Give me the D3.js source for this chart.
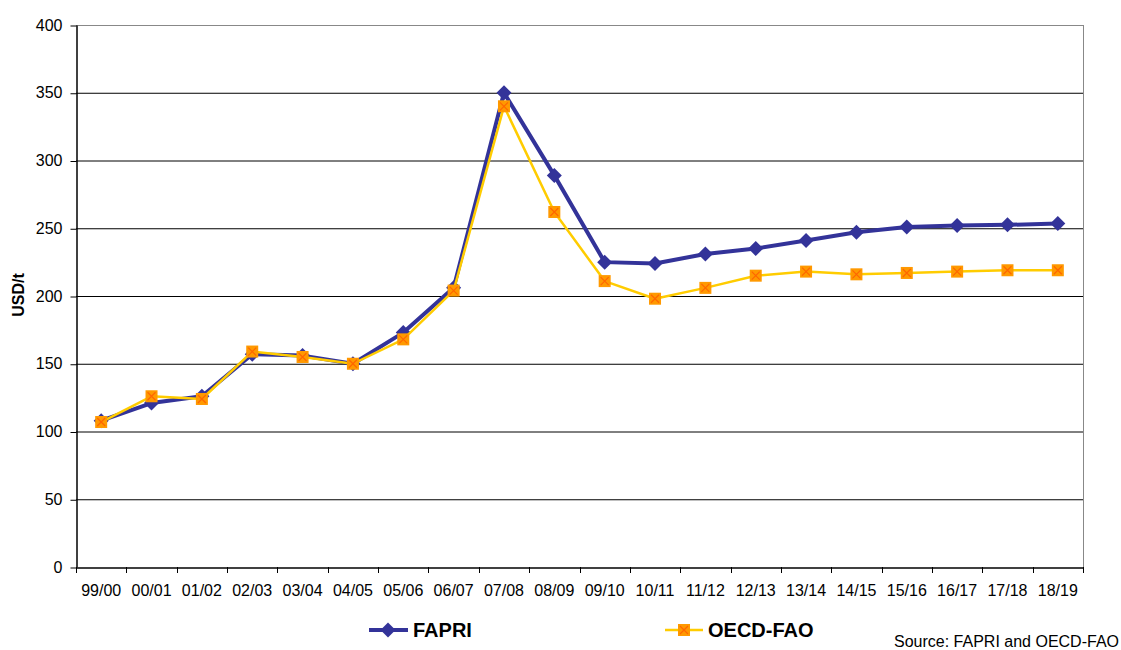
<!DOCTYPE html>
<html><head><meta charset="utf-8">
<script src="https://cdn.jsdelivr.net/npm/d3@7"></script>
<style>body{margin:0;background:#fff;}svg{display:block;font-family:"Liberation Sans",Arial,sans-serif;}</style>
</head><body>
<svg id="c" width="1121" height="650"></svg>
<script>
const categories = ["99/00","00/01","01/02","02/03","03/04","04/05","05/06","06/07","07/08","08/09","09/10","10/11","11/12","12/13","13/14","14/15","15/16","16/17","17/18","18/19"];
const fapri = [108,121,126,157,156,150,173,206,350,289,225,224,231,235,241,247,251,252,252.5,253.5];
const oecd  = [107,126,124,159,155,150,168,204,340,262,211,198,206,215,218,216,217,218,219,219];
const yTicks = [0,50,100,150,200,250,300,350,400];
const seriesNames = ["FAPRI","OECD-FAO"];

const svg = d3.select("#c");
const L=76, R=1083, T=25, B=567;
const x = d3.scaleBand().domain(categories).range([L,R]);
const y = d3.scaleLinear().domain([0,400]).range([B,T]);

// gridlines
svg.append("g").selectAll("line").data(yTicks.filter(d=>d>0&&d<400)).join("line")
  .attr("x1",L).attr("x2",R).attr("y1",d=>y(d)+0.5).attr("y2",d=>y(d)+0.5)
  .attr("stroke","#000").attr("stroke-width",1);
// top & right border gray
svg.append("line").attr("x1",L).attr("x2",R).attr("y1",y(400)+0.5).attr("y2",y(400)+0.5).attr("stroke","#888");
svg.append("line").attr("x1",R+0.5).attr("x2",R+0.5).attr("y1",T).attr("y2",B).attr("stroke","#888");

// y axis
const ya = svg.append("g").attr("transform",`translate(${L+0.5},0)`)
  .call(d3.axisLeft(y).tickValues(yTicks).tickSize(6).tickPadding(8).tickSizeOuter(0));
ya.select(".domain").attr("stroke","#000").attr("stroke-width",1.5);
ya.selectAll(".tick line").attr("stroke","#000").attr("transform","translate(0,0.5)");
ya.selectAll("text").attr("font-size",16).attr("fill","#000").attr("font-family","Liberation Sans, Arial, sans-serif");

// x axis
const xa = svg.append("g").attr("transform",`translate(0,${B+0.5})`)
  .call(d3.axisBottom(x).tickSize(0).tickPadding(17).tickSizeOuter(0));
xa.select(".domain").attr("stroke","#000").attr("stroke-width",1.5);
xa.selectAll("text").attr("font-size",16).attr("fill","#000").attr("font-family","Liberation Sans, Arial, sans-serif");
// boundary tick marks
svg.append("g").selectAll("line").data(d3.range(categories.length+1)).join("line")
  .attr("x1",i=>Math.round(L+i*x.bandwidth())+0.5).attr("x2",i=>Math.round(L+i*x.bandwidth())+0.5)
  .attr("y1",B).attr("y2",B+6).attr("stroke","#000");

// y label
svg.append("text").attr("transform","translate(24,295) rotate(-90)").attr("text-anchor","middle")
  .attr("font-size",16).attr("font-weight","bold").text("USD/t");

const cx = (d,i)=>x(categories[i])+x.bandwidth()/2;
const line = d3.line().x((d,i)=>cx(d,i)).y(d=>y(d));

// FAPRI
svg.append("path").datum(fapri).attr("d",line).attr("fill","none").attr("stroke","#333399").attr("stroke-width",4).attr("stroke-linejoin","round");
const diamond = (px,py,s)=>`M${px},${py-s}L${px+s},${py}L${px},${py+s}L${px-s},${py}Z`;
svg.append("g").selectAll("path").data(fapri).join("path")
  .attr("d",(d,i)=>diamond(cx(d,i),y(d),7.5)).attr("fill","#333399");

// OECD
svg.append("path").datum(oecd).attr("d",line).attr("fill","none").attr("stroke","#FFCC00").attr("stroke-width",2.5).attr("stroke-linejoin","round");
function sq(g,px,py){
  g.append("rect").attr("x",px-6).attr("y",py-6).attr("width",12).attr("height",12).attr("fill","#FF9900");
  g.append("path").attr("d",`M${px-4},${py-4}L${px+4},${py+4}M${px+4},${py-4}L${px-4},${py+4}`).attr("stroke","#FF6600").attr("stroke-width",1.2);
}
const og = svg.append("g");
oecd.forEach((d,i)=>sq(og,cx(d,i),y(d)));

// legend
const lg = svg.append("g");
lg.append("line").attr("x1",369).attr("x2",408).attr("y1",630).attr("y2",630).attr("stroke","#333399").attr("stroke-width",4);
lg.append("path").attr("d",diamond(388,630,7.5)).attr("fill","#333399");
lg.append("text").attr("x",413).attr("y",637).attr("font-size",20).attr("font-weight","bold").text(seriesNames[0]);
lg.append("line").attr("x1",665).attr("x2",703).attr("y1",630).attr("y2",630).attr("stroke","#FFCC00").attr("stroke-width",2.5);
sq(lg,684,630);
lg.append("text").attr("x",708).attr("y",637).attr("font-size",20).attr("font-weight","bold").text(seriesNames[1]);

svg.append("text").attr("x",1119).attr("y",647).attr("text-anchor","end").attr("font-size",16).text("Source: FAPRI and OECD-FAO");
</script>
</body></html>
